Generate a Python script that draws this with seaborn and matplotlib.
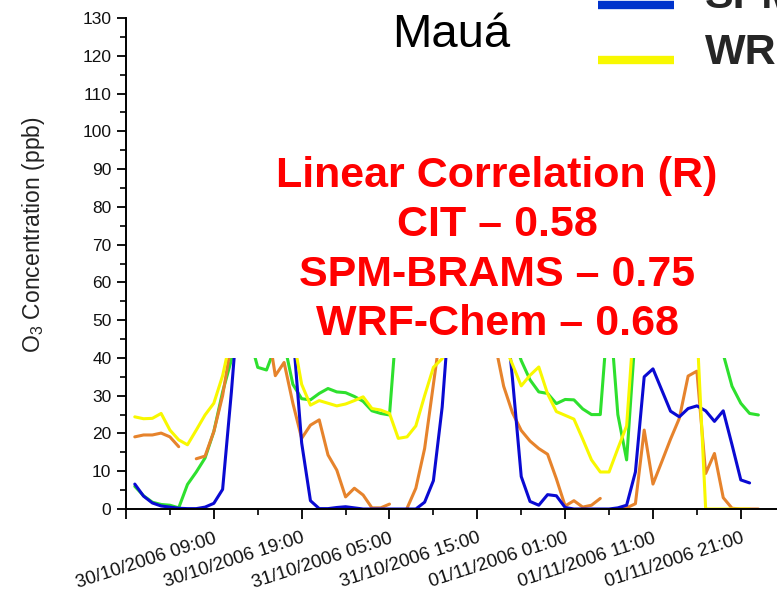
import numpy as np
import pandas as pd
import matplotlib
matplotlib.use("Agg")
import matplotlib.pyplot as plt
import matplotlib.dates as mdates
from matplotlib.lines import Line2D
from matplotlib.legend_handler import HandlerLine2D
from matplotlib.ticker import MultipleLocator, FixedLocator, FixedFormatter
import seaborn as sns

# Hourly O3 series (ppb) starting 30/10/2006 00:00
start = "2006-10-30 00:00"

observed = [6.0, 3.5, 1.8, 1.2, 1.0, 0.3, 6.5, 9.8, 13.5, 20.5,
            31.0, 39.5, 52.0, 46.0, 37.5, 36.8, 43.0, 44.0, 33.0, 29.2,
            28.9, 30.6, 31.9, 31.0, 30.8, 29.8, 28.5, 26.0, 25.3, 24.9,
            55.0, 68.0, 80.0, 88.0, 92.0, 96.0, 99.0, 100.0, 97.0, 90.0,
            80.0, 68.0, 55.0, 46.0, 39.3, 34.2, 31.0, 30.6, 27.9, 29.0,
            28.9, 26.5, 25.0, 25.0, 55.0, 25.0, 13.0, 47.0, 62.0, 70.0,
            76.0, 78.0, 75.0, 70.0, 62.0, 55.0, 50.0, 41.0, 32.5, 28.0,
            25.3, 24.9]

cit = [19.1, 19.6, 19.6, 20.1, 19.1, 16.5, np.nan, 13.3, 14.0, 20.5,
       30.0, 44.0, 55.0, 60.0, 58.0, 50.0, 35.3, 38.8, 28.0, 18.7,
       22.2, 23.6, 14.3, 10.3, 3.2, 5.5, 3.7, 0.3, 0.3, 1.3,
       np.nan, 0.2, 5.5, 16.0, 33.0, 50.0, 62.0, 70.0, 72.0, 68.0,
       58.0, 44.0, 32.5, 25.5, 20.8, 18.0, 16.0, 14.5, 8.0, 0.8,
       2.2, 0.5, 1.0, 2.8, np.nan, 0.0, 0.3, 1.4, 20.9, 6.6,
       12.5, 18.5, 24.0, 35.2, 36.5, 9.4, 14.7, 3.0, 0.2, 0.0,
       0.0, 0.0]

spm_brams = [6.6, 3.4, 1.6, 0.8, 0.5, 0.2, 0.1, 0.1, 0.5, 1.5,
             5.2, 31.0, 60.0, 75.0, 85.0, 88.0, 82.0, 68.0, 47.0, 17.5,
             2.2, 0.1, 0.1, 0.4, 0.6, 0.3, 0.0, 0.0, 0.0, 0.0,
             0.0, 0.0, 0.0, 1.8, 7.5, 27.0, 58.0, 78.0, 90.0, 92.0,
             86.0, 75.0, 58.0, 34.6, 8.6, 2.0, 1.0, 3.8, 3.5, 0.4,
             0.0, 0.0, 0.0, 0.0, 0.0, 0.3, 1.0, 9.8, 35.0, 37.1,
             31.5, 25.9, 24.4, 26.6, 27.3, 26.0, 23.2, 26.0, 17.0, 7.7,
             6.9]

wrf_chem = [24.4, 23.9, 24.0, 25.3, 20.9, 18.3, 17.0, 20.9, 24.9, 28.0,
            35.3, 46.0, 58.0, 66.0, 70.0, 68.0, 62.0, 54.0, 46.0, 33.0,
            27.5, 28.7, 28.0, 27.3, 27.8, 28.7, 29.7, 26.6, 26.2, 25.3,
            18.7, 19.1, 22.0, 30.0, 37.5, 39.8, 48.0, 60.0, 68.0, 72.0,
            70.0, 62.0, 44.0, 38.3, 32.6, 35.4, 37.6, 30.5, 25.8, 24.8,
            23.8, 18.5, 13.0, 9.8, 9.8, 16.0, 22.0, 55.0, 70.0, 80.0,
            85.0, 82.0, 72.0, 60.0, 48.0, 0.0, 0.0, 0.0, 0.0, 0.0,
            0.0]

series_names = ["Observed", "CIT", "SPM-BRAMS", "WRF-Chem"]
series_colors = ["#2ee02e", "#e6832c", "#0a0ad2", "#f8f800"]

tick_labels = ["30/10/2006 09:00", "30/10/2006 19:00", "31/10/2006 05:00",
               "31/10/2006 15:00", "01/11/2006 01:00", "01/11/2006 11:00",
               "01/11/2006 21:00"]

correlations = [("CIT", 0.58), ("SPM-BRAMS", 0.75), ("WRF-Chem", 0.68)]
station = "Mauá"
y_label = r"$\mathregular{O_3}$ Concentration (ppb)"

# Long-form table; runs separated by missing hours get their own unit
frames = []
for name, vals in zip(series_names, [observed, cit, spm_brams, wrf_chem]):
    v = pd.Series(vals, dtype=float)
    t = pd.date_range(start, periods=len(v), freq="h")
    seg = v.isna().cumsum()
    df = pd.DataFrame({"time": t, "o3": v, "model": name, "segment": seg}).dropna()
    df["unit"] = name + "_" + df["segment"].astype(str)
    frames.append(df)
data = pd.concat(frames, ignore_index=True)

sns.set_theme(style="ticks")
plt.rcParams["font.family"] = ["Liberation Sans", "DejaVu Sans"]
plt.rcParams["mathtext.default"] = "regular"

fig = plt.figure(figsize=(7.77, 5.92), dpi=100)
ax = fig.add_axes([126 / 777, 83 / 592, 674 / 777, 491 / 592])

sns.lineplot(data=data, x="time", y="o3", hue="model", units="unit",
             estimator=None, hue_order=series_names,
             palette=dict(zip(series_names, series_colors)),
             linewidth=2.2, legend=False, ax=ax)

t0 = pd.Timestamp(start)
ax.set_xlim(t0 - pd.Timedelta(hours=1), t0 + pd.Timedelta(hours=75.74))
ax.set_ylim(0, 130)

# x ticks: labelled every 10 h, minor every 5 h
label_times = pd.to_datetime(tick_labels, format="%d/%m/%Y %H:%M")
major_times = [label_times[0] - pd.Timedelta(hours=10)] + list(label_times)
major_pos = mdates.date2num(major_times)
minor_pos = major_pos + 5 / 24
ax.xaxis.set_major_locator(FixedLocator(major_pos))
ax.xaxis.set_minor_locator(FixedLocator(minor_pos))
ax.xaxis.set_major_formatter(FixedFormatter([""] + tick_labels))
ax.tick_params(axis="x", which="major", labelrotation=18, labelsize=13.5)
plt.setp(ax.get_xticklabels(), ha="right", rotation_mode="anchor")

ax.yaxis.set_major_locator(MultipleLocator(10))
ax.yaxis.set_minor_locator(MultipleLocator(5))
ax.tick_params(axis="y", which="major", length=6.5, width=1.3, labelsize=12.5,
               pad=4, color="black", labelcolor="#111111")
ax.tick_params(axis="y", which="minor", length=4.3, width=1.2, color="black")
ax.tick_params(axis="x", which="major", length=7, width=1.3, pad=8,
               color="black", labelcolor="#111111")
ax.tick_params(axis="x", which="minor", length=4.5, width=1.2, color="black")

for s in ["top", "right"]:
    ax.spines[s].set_visible(False)
for s in ["left", "bottom"]:
    ax.spines[s].set_linewidth(1.4)
    ax.spines[s].set_color("black")
    ax.spines[s].set_zorder(5)

ax.set_xlabel("")
ax.set_ylabel(y_label, fontsize=16.5, color="#222222")
ax.yaxis.set_label_coords(-0.117, 0.559)

# Text box with the correlation summary sits over the upper part of the plot
ax.axhspan(40, 131, xmin=0.004, xmax=1, facecolor="white", edgecolor="none", zorder=3)
summary = "Linear Correlation (R)\n" + "\n".join(f"{n} \u2013 {r:.2f}" for n, r in correlations)
fig.text(497 / 777, 1 - 250 / 592, summary, ha="center", va="center",
         color="#ff0000", fontsize=31, fontweight="bold", linespacing=1.31, zorder=6)

fig.text(451 / 777, 1 - 47 / 592, station, ha="center", va="baseline",
         fontsize=34, color="black")


class LowerLine(HandlerLine2D):
    def create_artists(self, legend, orig_handle, xdescent, ydescent, width,
                       height, fontsize, trans):
        arts = super().create_artists(legend, orig_handle, xdescent, ydescent,
                                      width, height, fontsize, trans)
        for a in arts:
            a.set_ydata(np.asarray(a.get_ydata(), dtype=float) - 0.26 * fontsize)
        return arts


handles = [Line2D([], [], color=c, lw=6, solid_capstyle="butt") for c in series_colors]
handles[2].set_color("#0033cc")
fig.legend(handles, series_names, loc="lower left",
           bbox_to_anchor=(598 / 777, 1 - 73 / 592), frameon=False,
           prop={"weight": "bold", "size": 31}, handlelength=1.77,
           handletextpad=0.72, borderpad=0, borderaxespad=0, labelspacing=0.36,
           handler_map={Line2D: LowerLine()})

fig.savefig("out.png", dpi=100)
